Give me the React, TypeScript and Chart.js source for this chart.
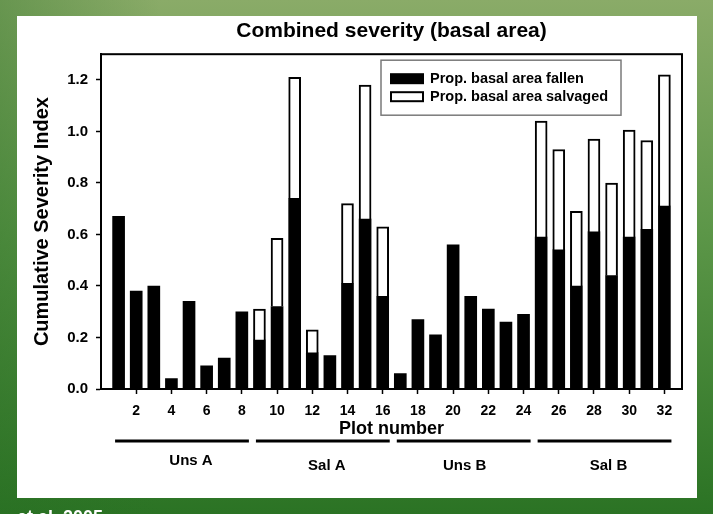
import React, { useEffect, useRef } from 'react';
import { Chart, registerables } from 'chart.js';

Chart.register(...registerables);

// ---------- data ----------
const plotNumbers = [1, 2, 3, 4, 5, 6, 7, 8, 9, 10, 11, 12, 13, 14, 15, 16, 17, 18, 19, 20, 21, 22, 23, 24, 25, 26, 27, 28, 29, 30, 31, 32];
const fallen = [0.67, 0.38, 0.40, 0.04, 0.34, 0.09, 0.12, 0.30, 0.19, 0.32, 0.74, 0.14, 0.13, 0.41, 0.66, 0.36, 0.06, 0.27, 0.21, 0.56, 0.36, 0.31, 0.26, 0.29, 0.59, 0.54, 0.40, 0.61, 0.44, 0.59, 0.62, 0.71];
const salvaged = [0, 0, 0, 0, 0, 0, 0, 0, 0.12, 0.265, 0.47, 0.09, 0, 0.31, 0.52, 0.27, 0, 0, 0, 0, 0, 0, 0, 0, 0.45, 0.39, 0.29, 0.36, 0.36, 0.415, 0.345, 0.51];
const seriesLabels = ['Prop. basal area fallen', 'Prop. basal area salvaged'];
const groupNames = ['Uns A', 'Sal A', 'Uns B', 'Sal B'];
const groupFirstPlot = [1, 9, 17, 25];
const groupLastPlot = [8, 16, 24, 32];
const chartTitle = 'Combined severity (basal area)';
const xTitle = 'Plot number';
const yTitle = 'Cumulative Severity Index';
const credit = 'et al. 2005';

const FONT = '"Liberation Sans", Arial, Helvetica, sans-serif';

const bgPlugin = {
  id: 'bgPanel',
  beforeDraw(chart: any) {
    const { ctx, width, height } = chart;
    ctx.save();
    const g = ctx.createLinearGradient(0, 0, 0, height);
    g.addColorStop(0, '#8aab68');
    g.addColorStop(0.45, '#5c9648');
    g.addColorStop(1, '#2b7324');
    ctx.fillStyle = g;
    ctx.fillRect(0, 0, width, height);
    const h = ctx.createLinearGradient(0, 0, 160, 0);
    h.addColorStop(0, 'rgba(40,110,35,0.35)');
    h.addColorStop(1, 'rgba(40,110,35,0)');
    ctx.fillStyle = h;
    ctx.fillRect(0, 0, 160, height);
    ctx.fillStyle = '#ffffff';
    ctx.fillRect(17, 16, 680, 482);
    ctx.restore();
  },
};

const framePlugin = {
  id: 'frame',
  afterDatasetsDraw(chart: any) {
    const { ctx, chartArea: a } = chart;
    ctx.save();
    ctx.strokeStyle = '#000';
    ctx.lineWidth = 2;
    ctx.strokeRect(a.left, a.top, a.right - a.left, a.bottom - a.top);
    ctx.restore();
  },
};

const legendPlugin = {
  id: 'boxLegend',
  afterDraw(chart: any) {
    const { ctx, chartArea: a } = chart;
    const w = 240;
    const h = 55;
    const left = a.right - 61 - w;
    const top = a.top + 6;
    ctx.save();
    ctx.fillStyle = '#fff';
    ctx.fillRect(left, top, w, h);
    ctx.strokeStyle = '#7a7a7a';
    ctx.lineWidth = 1.5;
    ctx.strokeRect(left, top, w, h);
    const centers = [top + 18.5, top + 36.5];
    ctx.fillStyle = '#000';
    ctx.fillRect(left + 9, centers[0] - 5.5, 34, 11);
    ctx.fillStyle = '#fff';
    ctx.fillRect(left + 9, centers[1] - 5, 34, 10);
    ctx.strokeStyle = '#000';
    ctx.lineWidth = 2;
    ctx.strokeRect(left + 10, centers[1] - 4.5, 32, 9);
    ctx.fillStyle = '#000';
    ctx.font = `bold 14.5px ${FONT}`;
    ctx.textAlign = 'left';
    ctx.textBaseline = 'middle';
    ctx.fillText(chart.data.datasets[0].label, left + 49, centers[0]);
    ctx.fillText(chart.data.datasets[1].label, left + 49, centers[1]);
    ctx.restore();
  },
};

const groupPlugin = {
  id: 'groups',
  afterDraw(chart: any) {
    const { ctx, chartArea: a } = chart;
    const xs = chart.scales.x;
    const labelOffsets = [9, 4, 1, 4];
    const labelDy = [72, 77, 77, 77];
    ctx.save();
    ctx.strokeStyle = '#000';
    ctx.lineWidth = 3;
    ctx.fillStyle = '#000';
    ctx.font = `bold 15px ${FONT}`;
    ctx.textAlign = 'center';
    ctx.textBaseline = 'middle';
    groupNames.forEach((name, i) => {
      const x1 = xs.getPixelForValue(groupFirstPlot[i] - 0.2);
      const x2 = xs.getPixelForValue(groupLastPlot[i] + 0.4);
      const y = a.bottom + 52;
      ctx.beginPath();
      ctx.moveTo(x1, y);
      ctx.lineTo(x2, y);
      ctx.stroke();
      ctx.fillText(name, (x1 + x2) / 2 + labelOffsets[i], a.bottom + labelDy[i]);
    });
    ctx.fillStyle = '#ffffff';
    ctx.font = `bold 18px ${FONT}`;
    ctx.textAlign = 'right';
    ctx.textBaseline = 'top';
    ctx.fillText(credit, 103, 509);
    ctx.restore();
  },
};

export default function App() {
  const ref = useRef<HTMLCanvasElement | null>(null);

  useEffect(() => {
    if (!ref.current) return;
    Chart.defaults.font.family = FONT;
    const chart = new Chart(ref.current, {
      type: 'bar',
      data: {
        datasets: [
          {
            label: seriesLabels[0],
            data: plotNumbers.map((p, i) => ({ x: p, y: fallen[i] })),
            backgroundColor: '#000',
            borderColor: '#000',
            borderWidth: 0,
            barThickness: 12,
          },
          {
            label: seriesLabels[1],
            data: plotNumbers.map((p, i) => ({ x: p, y: salvaged[i] })),
            backgroundColor: '#fff',
            borderColor: '#000',
            borderWidth: 2,
            borderSkipped: 'start',
            barThickness: 12,
          },
        ],
      },
      options: {
        animation: false,
        responsive: false,
        devicePixelRatio: 1,
        layout: { padding: { left: 16, right: 31, top: 0, bottom: 65 } },
        plugins: {
          legend: { display: false },
          tooltip: { enabled: false },
          title: {
            display: true,
            text: chartTitle,
            color: '#000',
            fullSize: false,
            font: { size: 21, weight: 'bold', family: FONT },
            padding: { top: 19, bottom: 10 },
          },
        },
        scales: {
          x: {
            type: 'linear',
            min: 0,
            max: 33,
            offset: false,
            stacked: true,
            afterBuildTicks: (s: any) => {
              s.ticks = s.ticks.filter((t: any) => t.value > 0 && t.value <= 32);
            },
            afterFit: (s: any) => {
              s.height = 60;
            },
            ticks: {
              stepSize: 2,
              includeBounds: false,
              color: '#000',
              padding: 9,
              font: { size: 14, weight: 'bold', family: FONT },
              maxRotation: 0,
              autoSkip: false,
            },
            grid: {
              display: true,
              offset: false,
              drawOnChartArea: false,
              drawTicks: true,
              tickLength: 5,
              tickColor: '#000',
              tickWidth: 1.5,
            },
            border: { display: true, color: '#000', width: 2 },
            title: {
              display: true,
              text: xTitle,
              color: '#000',
              font: { size: 18, weight: 'bold', family: FONT },
              padding: { top: 0, bottom: 9 },
            },
          },
          y: {
            min: 0,
            max: 1.3,
            stacked: true,
            afterFit: (s: any) => {
              s.width = 85;
            },
            ticks: {
              stepSize: 0.2,
              includeBounds: false,
              color: '#000',
              padding: 8,
              font: { size: 15, weight: 'bold', family: FONT },
              callback: (v: any) => Number(v).toFixed(1),
            },
            grid: {
              display: true,
              drawOnChartArea: false,
              drawTicks: true,
              tickLength: 5,
              tickColor: '#000',
              tickWidth: 1.5,
            },
            border: { display: true, color: '#000', width: 2 },
            title: {
              display: true,
              text: yTitle,
              color: '#000',
              font: { size: 20, weight: 'bold', family: FONT },
              padding: { top: 14, bottom: 0 },
            },
          },
        },
      },
      plugins: [bgPlugin, framePlugin, legendPlugin, groupPlugin],
    } as any);
    return () => chart.destroy();
  }, []);

  return (
    <div style={{ position: 'fixed', left: 0, top: 0, width: 713, height: 514 }}>
      <canvas ref={ref} width={713} height={514} style={{ display: 'block', width: 713, height: 514 }} />
    </div>
  );
}
